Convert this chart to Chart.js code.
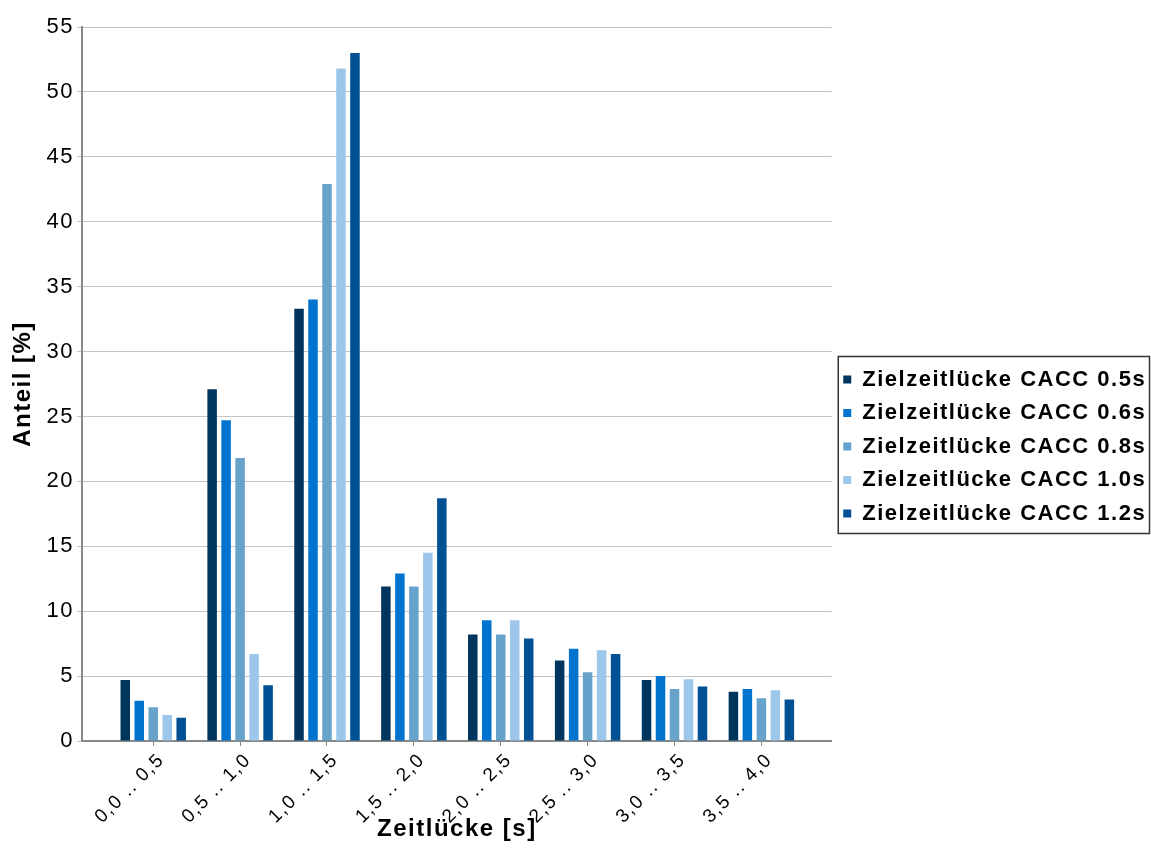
<!DOCTYPE html>
<html lang="de">
<head>
  <meta charset="UTF-8">
  <title>Zeitlücke</title>
  <script src="https://cdn.jsdelivr.net/npm/chart.js"></script>
  <style>
    body { margin: 0; background: #fff; }
    canvas { display: block; }
  </style>
</head>
<body>
  <canvas id="chart" width="1151" height="866"></canvas>
  <script>
    const categories = ['0,0 .. 0,5', '0,5 .. 1,0', '1,0 .. 1,5', '1,5 .. 2,0',
                        '2,0 .. 2,5', '2,5 .. 3,0', '3,0 .. 3,5', '3,5 .. 4,0'];
    const seriesNames = ['Zielzeitlücke CACC 0.5s', 'Zielzeitlücke CACC 0.6s',
                         'Zielzeitlücke CACC 0.8s', 'Zielzeitlücke CACC 1.0s',
                         'Zielzeitlücke CACC 1.2s'];
    const cacc05 = [4.7, 27.1, 33.3, 11.9, 8.2, 6.2, 4.7, 3.8];
    const cacc06 = [3.1, 24.7, 34.0, 12.9, 9.3, 7.1, 5.0, 4.0];
    const cacc08 = [2.6, 21.8, 42.9, 11.9, 8.2, 5.3, 4.0, 3.3];
    const cacc10 = [2.0, 6.7, 51.8, 14.5, 9.3, 7.0, 4.75, 3.9];
    const cacc12 = [1.8, 4.3, 53.0, 18.7, 7.9, 6.7, 4.2, 3.2];
    const yTicks = { min: 0, max: 55, step: 5 };

    const colors = ['#00355e', '#0073ce', '#67a2ca', '#9cc7ea', '#005193'];
    const values = [cacc05, cacc06, cacc08, cacc10, cacc12];

    const FONT = "'Liberation Sans', Arial, sans-serif";
    const LETTER_SPACING = 1.5;

    // the original renderer spaces its glyphs a little wider.
    // measureText ignores letterSpacing here, so the legend gets the extra room by hand
    const spacing = {
      id: 'spacing',
      afterInit(chart) {
        const legend = chart.legend;
        const fit = legend.fit.bind(legend);
        legend.fit = function () {
          fit();
          const longest = Math.max(...seriesNames.map(s => s.length));
          this.width += longest * LETTER_SPACING;
        };
      },
      beforeUpdate(chart) { chart.ctx.letterSpacing = LETTER_SPACING + 'px'; },
      beforeDraw(chart) { chart.ctx.letterSpacing = LETTER_SPACING + 'px'; }
    };

    const legendBorder = {
      id: 'legendBorder',
      afterDraw(chart) {
        const boxes = chart.legend.legendHitBoxes;
        if (!boxes || !boxes.length) return;
        const ctx = chart.ctx;
        const left = boxes[0].left - 5;
        const top = boxes[0].top - 12;
        const last = boxes[boxes.length - 1];
        const bottom = last.top + last.height + 9;
        ctx.save();
        ctx.strokeStyle = '#333';
        ctx.lineWidth = 1.5;
        ctx.strokeRect(left, top, chart.width - 1.5 - left, bottom - top);
        ctx.restore();
      }
    };

    const ctx = document.getElementById('chart').getContext('2d');
    const chart = new Chart(ctx, {
      type: 'bar',
      data: {
        datasets: seriesNames.map((name, i) => ({
          label: name,
          data: values[i].map((v, j) => ({ x: j, y: v })),
          backgroundColor: colors[i],
          borderWidth: 0,
          categoryPercentage: 0.805,
          barPercentage: 0.68
        }))
      },
      options: {
        responsive: false,
        animation: false,
        layout: { padding: { left: 0, right: -4, top: 27, bottom: 0 } },
        plugins: {
          tooltip: { enabled: false },
          legend: {
            position: 'right',
            align: 'center',
            labels: {
              boxWidth: 8,
              boxHeight: 8,
              padding: 11.5,
              color: '#000',
              font: { family: FONT, size: 22, weight: 'bold' }
            }
          }
        },
        scales: {
          x: {
            type: 'linear',
            min: -0.82,
            max: 7.81,
            offset: false,
            afterFit(s) { s.height = 125; },
            grid: { drawOnChartArea: false, offset: false, color: '#888', tickLength: 5 },
            border: { color: '#888', width: 2 },
            ticks: {
              stepSize: 1,
              includeBounds: false,
              autoSkip: false,
              maxRotation: 45,
              minRotation: 45,
              labelOffset: 8,
              color: '#000',
              font: { family: FONT, size: 19 },
              callback: (v) => Number.isInteger(v) ? categories[v] : ''
            },
            title: {
              display: true,
              text: 'Zeitlücke [s]',
              color: '#000',
              font: { family: FONT, size: 24, weight: 'bold' },
              padding: { top: 0, bottom: 22 }
            }
          },
          y: {
            min: yTicks.min,
            max: yTicks.max,
            afterFit(s) { s.width = 82; },
            grid: { color: '#c4c4c4', lineWidth: 1, tickLength: 5 },
            border: { color: '#888', width: 2 },
            ticks: {
              stepSize: yTicks.step,
              color: '#000',
              padding: 3,
              font: { family: FONT, size: 22 }
            },
            title: {
              display: true,
              text: 'Anteil [%]',
              color: '#000',
              font: { family: FONT, size: 24, weight: 'bold' },
              padding: { top: 9, bottom: 0 }
            }
          }
        }
      },
      plugins: [spacing, legendBorder]
    });
  </script>
</body>
</html>
